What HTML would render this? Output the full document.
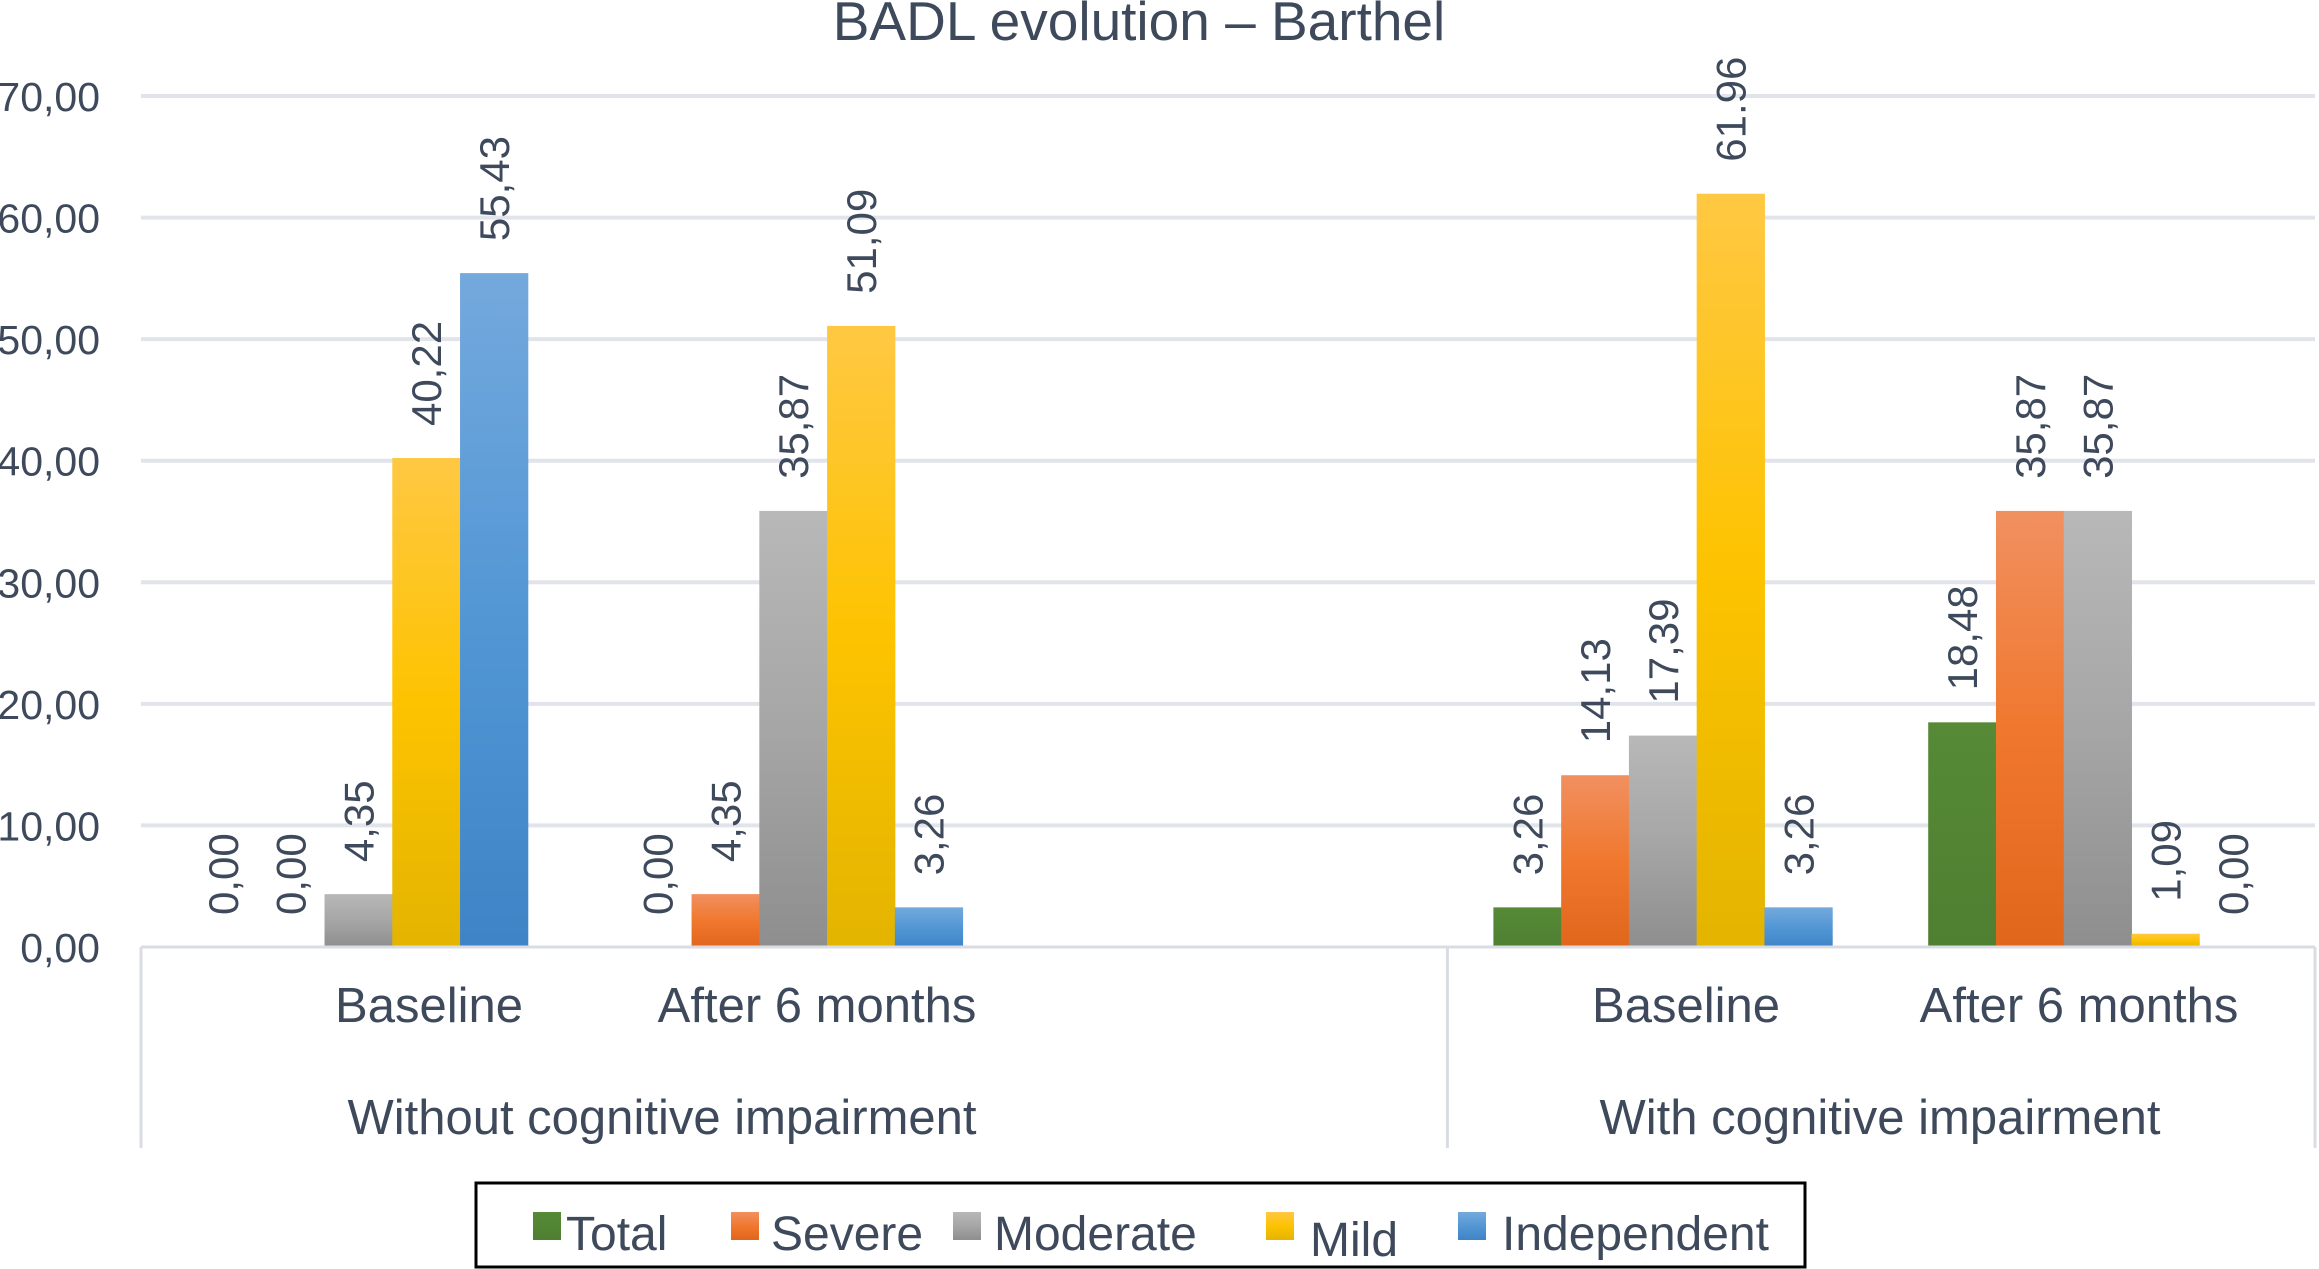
<!DOCTYPE html>
<html><head><meta charset="utf-8"><title>BADL evolution – Barthel</title>
<style>
html,body{margin:0;padding:0;background:#fff;}
svg{display:block;font-family:"Liberation Sans",Arial,sans-serif;}
</style></head>
<body>
<svg id="chart" width="2319" height="1269" viewBox="0 0 2319 1269" xmlns="http://www.w3.org/2000/svg">
<defs>
<linearGradient id="g-total" x1="0" y1="0" x2="0" y2="1"><stop offset="0" stop-color="#568a36"/><stop offset="1" stop-color="#4f7f31"/></linearGradient>
<linearGradient id="g-severe" x1="0" y1="0" x2="0" y2="1"><stop offset="0" stop-color="#f19060"/><stop offset="0.5" stop-color="#f0782e"/><stop offset="1" stop-color="#e0661c"/></linearGradient>
<linearGradient id="g-moderate" x1="0" y1="0" x2="0" y2="1"><stop offset="0" stop-color="#b8b8b8"/><stop offset="0.5" stop-color="#a6a6a6"/><stop offset="1" stop-color="#8e8e8e"/></linearGradient>
<linearGradient id="g-mild" x1="0" y1="0" x2="0" y2="1"><stop offset="0" stop-color="#ffc843"/><stop offset="0.5" stop-color="#fdc300"/><stop offset="1" stop-color="#e3b400"/></linearGradient>
<linearGradient id="g-indep" x1="0" y1="0" x2="0" y2="1"><stop offset="0" stop-color="#74a9dd"/><stop offset="0.5" stop-color="#5397d5"/><stop offset="1" stop-color="#3e84c6"/></linearGradient>
</defs>
<text x="1139" y="40" font-size="55" fill="#3e4a5c" text-anchor="middle">BADL evolution – Barthel</text>
<g id="grid"></g>
<g id="bars"></g>
<g id="vlabels"></g>
<g id="xaxis"></g>
<g>
<rect x="476" y="1183" width="1329" height="84" fill="#fff" stroke="#000" stroke-width="3"/>
<g><rect x="533" y="1212" width="28" height="28" fill="url(#g-total)"/><text x="566" y="1250" font-size="48" fill="#3e4a5c">Total</text></g>
<g><rect x="731" y="1212" width="28" height="28" fill="url(#g-severe)"/><text x="771" y="1250" font-size="48" fill="#3e4a5c">Severe</text></g>
<g><rect x="953" y="1212" width="28" height="28" fill="url(#g-moderate)"/><text x="994" y="1250" font-size="48" fill="#3e4a5c">Moderate</text></g>
<g><rect x="1266" y="1212" width="28" height="28" fill="url(#g-mild)"/><text x="1310" y="1256" font-size="48" fill="#3e4a5c">Mild</text></g>
<g><rect x="1458" y="1212" width="28" height="28" fill="url(#g-indep)"/><text x="1502" y="1250" font-size="48" fill="#3e4a5c">Independent</text></g>
</g>
</svg>
<script>
const categories = ["Baseline","After 6 months","Baseline","After 6 months"];
const categorySlots = [0,1,3,4];
const groups = ["Without cognitive impairment","With cognitive impairment"];
const seriesNames = ["Total","Severe","Moderate","Mild","Independent"];
const totalVals = [0.00, 0.00, 3.26, 18.48];
const severeVals = [0.00, 4.35, 14.13, 35.87];
const moderateVals = [4.35, 35.87, 17.39, 35.87];
const mildVals = [40.22, 51.09, 61.96, 1.09];
const independentVals = [55.43, 3.26, 3.26, 0.00];
const totalLabels = ["0,00","0,00","3,26","18,48"];
const severeLabels = ["0,00","4,35","14,13","35,87"];
const moderateLabels = ["4,35","35,87","17,39","35,87"];
const mildLabels = ["40,22","51,09","61.96","1,09"];
const independentLabels = ["55,43","3,26","3,26","0,00"];
const yTicks = [0,10,20,30,40,50,60,70];
const yTickLabels = ["0,00","10,00","20,00","30,00","40,00","50,00","60,00","70,00"];

const NS="http://www.w3.org/2000/svg";
const plotL=141, plotR=2315, y0=947, y70=96, yMax=70;
const slotW=(plotR-plotL)/5, barOff=48, barW=(slotW-2*barOff)/5;
function yScale(v){return y0-(v/yMax)*(y0-y70);}
function xSlot(s){return plotL+s*slotW;}
function mk(tag,attrs,parent){const e=document.createElementNS(NS,tag);for(const k in attrs)e.setAttribute(k,attrs[k]);parent.appendChild(e);return e;}

const grid=document.getElementById('grid');
yTicks.forEach((t,i)=>{
  if(t>0){const l=mk('line',{x1:plotL,x2:plotR,y1:yScale(t),y2:yScale(t),stroke:'#e1e4ea','stroke-width':4},grid);
  
  }
  const tx=mk('text',{x:100,y:yScale(t)+15,'font-size':41,fill:'#3e4a5c','text-anchor':'end'},grid);
  tx.textContent=yTickLabels[i];
  
  
});

const vals=[totalVals,severeVals,moderateVals,mildVals,independentVals];
const labs=[totalLabels,severeLabels,moderateLabels,mildLabels,independentLabels];
const fills=['url(#g-total)','url(#g-severe)','url(#g-moderate)','url(#g-mild)','url(#g-indep)'];
const barsG=document.getElementById('bars'), vl=document.getElementById('vlabels');
categories.forEach((c,ci)=>{
  vals.forEach((arr,si)=>{
    const x=xSlot(categorySlots[ci])+barOff+si*barW;
    const v=arr[ci], yt=yScale(v);
    if(v>0){const r=mk('rect',{x:x,y:yt,width:barW+0.5,height:y0-yt,fill:fills[si]},barsG);
    
    }
    const cx=x+barW/2+15, ty=yt-32;
    const t=mk('text',{x:cx,y:ty,'font-size':42,fill:'#3e4a5c',transform:'rotate(-90 '+cx+' '+ty+')'},vl);
    t.textContent=labs[si][ci];
    
    
  });
});

const xa=document.getElementById('xaxis');
const base=mk('line',{x1:plotL,x2:plotR,y1:y0,y2:y0,stroke:'#d9dde3','stroke-width':3},xa);


[plotL,xSlot(3)+2,plotR].forEach(x=>{
  const l=mk('line',{x1:x,x2:x,y1:y0,y2:1148,stroke:'#d9dde3','stroke-width':3},xa);
  
  
});
const catCenters=[429,817,1686,2079];
categories.forEach((c,i)=>{
  const t=mk('text',{x:catCenters[i],y:1022,'font-size':49,fill:'#3e4a5c','text-anchor':'middle'},xa);
  t.textContent=c;
  
  
});
const grpCenters=[662,1880];
groups.forEach((g,i)=>{
  const t=mk('text',{x:grpCenters[i],y:1134,'font-size':49,fill:'#3e4a5c','text-anchor':'middle'},xa);
  t.textContent=g;
  
  
});
</script>
</body></html>
